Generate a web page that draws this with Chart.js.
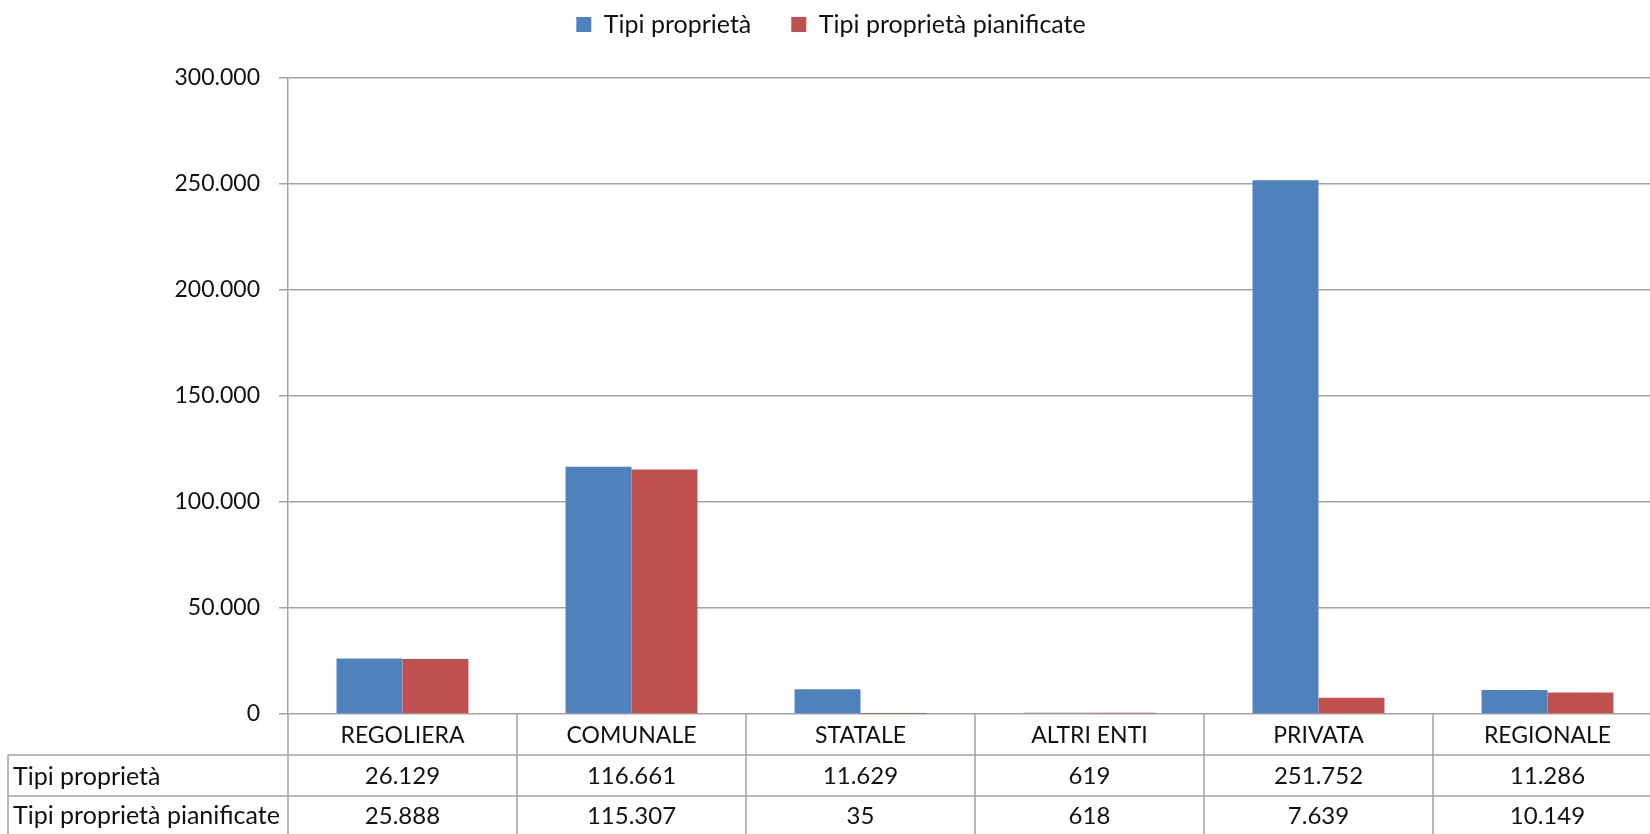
<!DOCTYPE html>
<html lang="it">
<head>
    <meta charset="UTF-8">
    <title>Tipi proprietà</title>
    <script src="https://cdn.jsdelivr.net/npm/chart.js"></script>
    <style>
        html, body { margin: 0; padding: 0; background: #fff; overflow: hidden; }
        #wrap { width: 1662px; height: 834px; }
    </style>
</head>
<body>
    <div id="wrap"><canvas id="chart" width="1662" height="834"></canvas></div>

    <script>
        const categories = ['REGOLIERA', 'COMUNALE', 'STATALE', 'ALTRI ENTI', 'PRIVATA', 'REGIONALE'];
        const tipiProprieta = [26129, 116661, 11629, 619, 251752, 11286];
        const tipiPianificate = [25888, 115307, 35, 618, 7639, 10149];
        const seriesNames = ['Tipi proprietà', 'Tipi proprietà pianificate'];

        const FONT = 'Lato, "Open Sans", sans-serif';
        const GRID = '#a3a3a3';
        const TEXT = '#111';

        function fmt(v) {
            return String(v).replace(/\B(?=(\d{3})+(?!\d))/g, '.');
        }

        // legend band is fixed so the plot starts at y=78 like the reference
        const legendBand = {
            id: 'legendBand',
            beforeUpdate(chart) {
                if (chart.legend && !chart.legend._patched) {
                    const fit = chart.legend.fit;
                    chart.legend.fit = function () {
                        fit.call(this);
                        const h = 78 - chart.options.layout.padding.top;
                        this.height = h;
                        this.bottom = this.top + h;
                    };
                    chart.legend._patched = true;
                }
            }
        };

        // data table under the plot
        const dataTable = {
            id: 'dataTable',
            afterDraw(chart) {
                const ctx = chart.ctx;
                const x = chart.scales.x;
                const area = chart.chartArea;
                const n = categories.length;
                const cw = (area.right - area.left) / n;
                const rows = [area.bottom, area.bottom + 41, area.bottom + 82, 834];
                const leftEdge = 8;

                ctx.save();
                ctx.strokeStyle = GRID;
                ctx.lineWidth = 1.5;
                ctx.beginPath();
                ctx.moveTo(area.left, area.bottom);
                ctx.lineTo(area.left, 834);
                for (let i = 1; i <= n; i++) {
                    const bx = area.left + i * cw;
                    ctx.moveTo(bx, rows[0]);
                    ctx.lineTo(bx, 834);
                }
                ctx.moveTo(leftEdge, rows[1]);
                ctx.lineTo(area.right, rows[1]);
                ctx.moveTo(leftEdge, rows[2]);
                ctx.lineTo(area.right, rows[2]);
                ctx.moveTo(leftEdge, rows[1]);
                ctx.lineTo(leftEdge, 834);
                ctx.stroke();

                ctx.fillStyle = TEXT;
                ctx.textBaseline = 'middle';
                ctx.textAlign = 'center';
                categories.forEach((c, i) => {
                    const cx = x.getPixelForValue(i);
                    ctx.font = '23px ' + FONT;
                    ctx.fillText(c, cx, (rows[0] + rows[1]) / 2 + 1);
                    ctx.font = '24px ' + FONT;
                    ctx.fillText(fmt(tipiProprieta[i]), cx, (rows[1] + rows[2]) / 2 + 1);
                    ctx.fillText(fmt(tipiPianificate[i]), cx, (rows[2] + rows[3]) / 2 + 1);
                });
                ctx.textAlign = 'left';
                ctx.font = '25px ' + FONT;
                ctx.fillText(seriesNames[0], leftEdge + 5, (rows[1] + rows[2]) / 2 + 1);
                ctx.fillText(seriesNames[1], leftEdge + 5, (rows[2] + rows[3]) / 2 + 1);
                ctx.restore();
            }
        };

        new Chart(document.getElementById('chart'), {
            type: 'bar',
            data: {
                labels: categories,
                datasets: [
                    { label: seriesNames[0], data: tipiProprieta, backgroundColor: '#4f81bd' },
                    { label: seriesNames[1], data: tipiPianificate, backgroundColor: '#c0504d' }
                ]
            },
            options: {
                responsive: false,
                animation: false,
                layout: { padding: { top: -28, left: 0, right: 0, bottom: 120 } },
                datasets: { bar: { barPercentage: 1, categoryPercentage: 0.576 } },
                plugins: {
                    legend: {
                        position: 'top',
                        labels: {
                            boxWidth: 15,
                            boxHeight: 15,
                            padding: 40,
                            color: TEXT,
                            font: { family: FONT, size: 25 }
                        }
                    },
                    tooltip: { enabled: false }
                },
                scales: {
                    x: { display: false },
                    y: {
                        min: 0,
                        max: 300000,
                        afterFit: s => { s.width = 288; },
                        ticks: {
                            stepSize: 50000,
                            padding: 19,
                            color: TEXT,
                            font: { family: FONT, size: 23 },
                            callback: v => fmt(v)
                        },
                        grid: { color: GRID, lineWidth: 1.5, tickLength: 9 },
                        border: { display: true, color: GRID, width: 1.5 }
                    }
                }
            },
            plugins: [legendBand, dataTable]
        });
    </script>
</body>
</html>
